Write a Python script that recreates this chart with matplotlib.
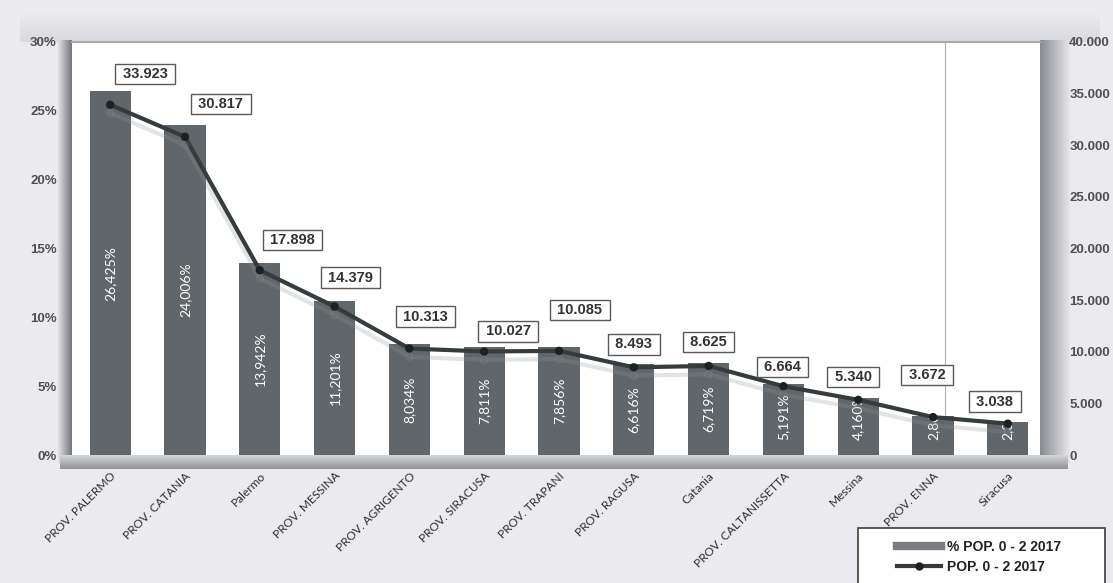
import numpy as np
import matplotlib
matplotlib.use("Agg")
import matplotlib.pyplot as plt
import matplotlib.patheffects as pe
from matplotlib.colors import LinearSegmentedColormap
from matplotlib.lines import Line2D
from matplotlib.patches import Rectangle
from matplotlib.ticker import FuncFormatter

# Popolazione 0-2 anni, 2017
AREE = ["PROV. PALERMO", "PROV. CATANIA", "Palermo", "PROV. MESSINA",
        "PROV. AGRIGENTO", "PROV. SIRACUSA", "PROV. TRAPANI", "PROV. RAGUSA",
        "Catania", "PROV. CALTANISSETTA", "Messina", "PROV. ENNA", "Siracusa"]
PERC_POP_0_2 = [26.425, 24.006, 13.942, 11.201, 8.034, 7.811, 7.856,
                6.616, 6.719, 5.191, 4.160, 2.860, 2.367]
POP_0_2 = [33923, 30817, 17898, 14379, 10313, 10027, 10085,
           8493, 8625, 6664, 5340, 3672, 3038]
LEGENDA = ["% POP. 0 - 2 2017", "POP. 0 - 2 2017"]

# spostamento delle etichette dei valori rispetto al punto (pixel)
LABEL_SHIFT = [(35, 31), (36, 33), (33, 30), (16, 29), (16, 32), (24, 20),
               (21, 41), (0, 23), (0, 24), (-1, 19), (-5, 23), (-6, 42),
               (-13, 22)]

W, H = 1113, 583
BAR_COLOR = "#60666a"
LINE_COLOR = "#363b3c"
BG = "#ebebef"


def fx(px):
    return px / W


def fy(py):
    return 1 - py / H


def it_num(v):
    return f"{v:,.0f}".replace(",", ".")


def gradient_band(fig, rect, c0, c1, horizontal=True):
    bax = fig.add_axes(rect)
    cmap = LinearSegmentedColormap.from_list("band", [c0, c1])
    g = np.linspace(0, 1, 64)
    img = g[None, :] if horizontal else g[:, None]
    bax.imshow(img, aspect="auto", cmap=cmap, extent=(0, 1, 0, 1))
    bax.axis("off")
    return bax


fig = plt.figure(figsize=(W / 100, H / 100), dpi=100, facecolor=BG)

# fascia grigia in alto, pareti laterali e pavimento
gradient_band(fig, [fx(20), fy(42), fx(1080), 30 / H], BG, "#d9d9df", horizontal=False)
gradient_band(fig, [fx(58), fy(463), 14 / W, (463 - 40) / H], "#e2e2e6", "#72757a")
gradient_band(fig, [fx(1040), fy(463), 30 / W, (463 - 40) / H], "#888b90", "#e6e6ea")
gradient_band(fig, [fx(60), fy(469), (1068 - 60) / W, 14 / H], "#d6d6da", "#8f9296", horizontal=False)

ax = fig.add_axes([fx(72), fy(455), (1040 - 72) / W, (455 - 42) / H])
ax.set_facecolor("white")
x = np.arange(len(AREE))

bars = ax.bar(x, PERC_POP_0_2, width=0.55, color=BAR_COLOR, zorder=2)
ax.axvline(11.16, color="#b0b0b0", lw=0.8, zorder=1)

# etichette percentuali dentro le barre
for rect, v in zip(bars, PERC_POP_0_2):
    yc = max(v / 2, 2.76)
    t = ax.text(rect.get_x() + rect.get_width() / 2, yc,
                f"{v:.3f}".replace(".", ",") + "%",
                rotation=90, ha="center", va="center", color="white",
                fontsize=10, family="Lato", zorder=3)
    t.set_clip_path(rect)

ax.set_xlim(-0.51, 12.43)
ax.set_ylim(0, 30)
ax.set_yticks(np.arange(0, 31, 5))
ax.yaxis.set_major_formatter(FuncFormatter(lambda v, p: f"{v:.0f}%"))
for lbl in ax.get_yticklabels():
    lbl.set_fontweight("bold")
    lbl.set_family("Liberation Sans")
ax.tick_params(axis="y", length=0, pad=11, labelsize=9.5, labelcolor="#505050")

ax.set_xticks(x)
ax.set_xticklabels(AREE, rotation=45, ha="right", rotation_mode="anchor",
                   fontsize=8.6, family="Lato", color="#2e2e2e")
ax.tick_params(axis="x", length=0, pad=11)

for s in ["left", "right", "bottom"]:
    ax.spines[s].set_visible(False)
ax.spines["top"].set_color("#a8a8a8")
ax.spines["top"].set_linewidth(1.5)

# asse secondario: popolazione assoluta
ax2 = ax.twinx()
ax2.plot(x, POP_0_2, color=LINE_COLOR, lw=3, marker="o", ms=5,
         mfc="#1d2121", mec="#1d2121", zorder=4,
         path_effects=[pe.SimpleLineShadow(offset=(0, -6), shadow_color="#8f969c", alpha=0.25),
                       pe.Normal()])
ax2.set_ylim(0, 40000)
ax2.set_yticks(np.arange(0, 40001, 5000))
ax2.yaxis.set_major_formatter(FuncFormatter(lambda v, p: it_num(v)))
for lbl in ax2.get_yticklabels():
    lbl.set_fontweight("bold")
    lbl.set_family("Liberation Sans")
ax2.tick_params(axis="y", length=0, pad=21, labelsize=9.5, labelcolor="#505050")
for s in ax2.spines.values():
    s.set_visible(False)

for i, (v, (dx, dy)) in enumerate(zip(POP_0_2, LABEL_SHIFT)):
    ax2.annotate(f" {it_num(v)} ", xy=(i, v), xytext=(dx, dy),
                 textcoords="offset pixels", ha="center", va="center",
                 fontsize=10.5, fontweight="bold", family="Liberation Sans",
                 color="#333333", zorder=5,
                 bbox=dict(boxstyle="square,pad=0.22", fc="white",
                           ec="#5a5a5a", lw=1))

# legenda
fig.add_artist(Rectangle((fx(858), fy(595)), (1105 - 858) / W, (595 - 528) / H,
                         transform=fig.transFigure, fc="white", ec="#4a4a4a", lw=1.3))
handles = [Line2D([], [], color="#7a7c7f", lw=6),
           Line2D([], [], color=LINE_COLOR, lw=3, marker="o", ms=5,
                  mfc="#1d2121", mec="#1d2121")]
fig.legend(handles, LEGENDA, loc="upper left", bbox_to_anchor=(fx(885), fy(528)),
           frameon=False, handlelength=3.2, handletextpad=0.4, labelspacing=0.45,
           borderpad=0.35, prop=dict(weight="bold", size=10, family="Liberation Sans"),
           labelcolor="#222222")

fig.savefig("out.png", dpi=100, facecolor=BG)
